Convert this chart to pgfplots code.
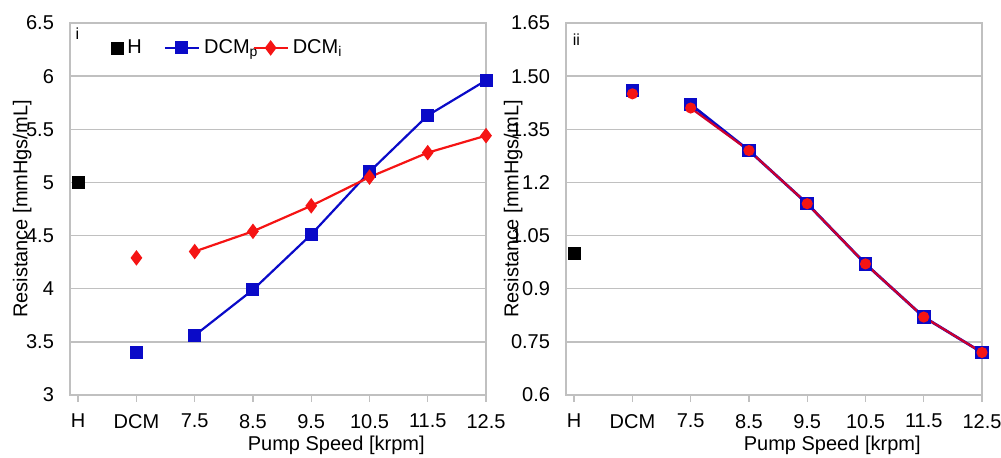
\documentclass[border=0pt]{standalone}
\usepackage{fontspec}
\setmainfont{Liberation Sans}
\usepackage{pgfplots}
\pgfplotsset{compat=1.18}
\definecolor{dblue}{RGB}{10,10,200}
\definecolor{dred}{RGB}{245,20,20}
\definecolor{mred}{RGB}{205,0,45}
\definecolor{gridgray}{RGB}{192,192,192}
\begin{document}
\begin{tikzpicture}[font=\fontsize{10}{12}\selectfont]
\pgfplotsset{
 myax/.style={scale only axis, width=208pt, height=186pt,
  xmin=-0.14, xmax=7,
  xtick={0,...,7}, xticklabels={H,DCM,7.5,8.5,9.5,10.5,11.5,12.5},
  ymajorgrids, grid style={gridgray, line width=0.7pt},
  axis line style={gridgray, line width=0.7pt},
  tick style={gridgray, line width=0.7pt},
  tick align=outside, xtick pos=lower, ytick pos=left,
  major tick length=3.5pt,
  ytick style={draw=none},
  xticklabel style={yshift=-2.5pt},
  yticklabel style={xshift=-1pt},
  /pgf/number format/assume math mode=true,
  xlabel={Pump Speed [krpm]},
  xlabel style={at={(rel axis cs:0.64,0)}, anchor=center, yshift=-25pt},
  ylabel={Resistance [mmHgs/mL]},
  clip=false,
 }
}
\path[use as bounding box] (-35pt,-31.5pt) rectangle (465.5pt,197.5pt);
% ---------- panel i ----------
\begin{axis}[myax, at={(0,0)}, anchor=south west,
  ymin=3, ymax=6.5, ytick={3,3.5,...,6.5},
  ylabel style={at={(rel axis cs:-0.115,0.5)}, anchor=center},
  legend style={at={(rel axis cs:0.084,0.933)}, anchor=west, draw=none, fill=none,
    legend columns=3, font=\fontsize{10}{12}\selectfont,
    /tikz/every even column/.append style={column sep=-5pt}},
]
\node[anchor=center] at (rel axis cs:0.018,0.97) {\fontsize{8}{9}\selectfont i};
\addplot[only marks, mark=square*, black, mark size=3pt] coordinates {(0,5.0)};
\addlegendentry{H\hspace{14pt}\null}
\addplot[dblue, line width=1.1pt, mark=square*, mark size=2.7pt] coordinates {
 (2,3.56) (3,3.99) (4,4.51) (5,5.10) (6,5.63) (7,5.96)};
\addlegendentry{DCM\textsubscript{p}}
\addplot[dred, line width=1.1pt, mark=diamond*, mark size=3pt] coordinates {
 (2,4.35) (3,4.54) (4,4.78) (5,5.05) (6,5.28) (7,5.44)};
\addlegendentry{DCM\textsubscript{i}}
\addplot[forget plot, only marks, dblue, line width=1.1pt, mark=square*, mark size=2.7pt] coordinates {(1,3.40)};
\addplot[forget plot, only marks, dred, line width=1.1pt, mark=diamond*, mark size=3pt] coordinates {(1,4.29)};
\end{axis}
% ---------- panel ii ----------
\begin{axis}[myax, at={(248pt,0)}, anchor=south west,
  ymin=0.6, ymax=1.65, ytick={0.6,0.75,0.9,1.05,1.2,1.35,1.5,1.65},
  yticklabels={0.6,0.75,0.9,1.05,1.2,1.35,1.50,1.65},
  ylabel style={at={(rel axis cs:-0.127,0.5)}, anchor=center},
]
\node[anchor=center] at (rel axis cs:0.025,0.955) {\fontsize{8}{9}\selectfont ii};
\addplot[only marks, mark=square*, black, mark size=3pt] coordinates {(0,1.00)};
\addplot[dblue, line width=1.4pt, mark=square*, mark size=2.7pt] coordinates {
 (2,1.42) (3,1.29) (4,1.14) (5,0.97) (6,0.82) (7,0.72)};
\addplot[mred, line width=1.1pt, mark=*, mark size=2.2pt, mark options={dred}] coordinates {
 (2,1.41) (3,1.29) (4,1.14) (5,0.97) (6,0.82) (7,0.72)};
\addplot[only marks, dblue, line width=1.1pt, mark=square*, mark size=2.7pt] coordinates {(1,1.46)};
\addplot[only marks, dred, line width=1.1pt, mark=*, mark size=2.2pt] coordinates {(1,1.45)};
\end{axis}
\end{tikzpicture}
\end{document}
